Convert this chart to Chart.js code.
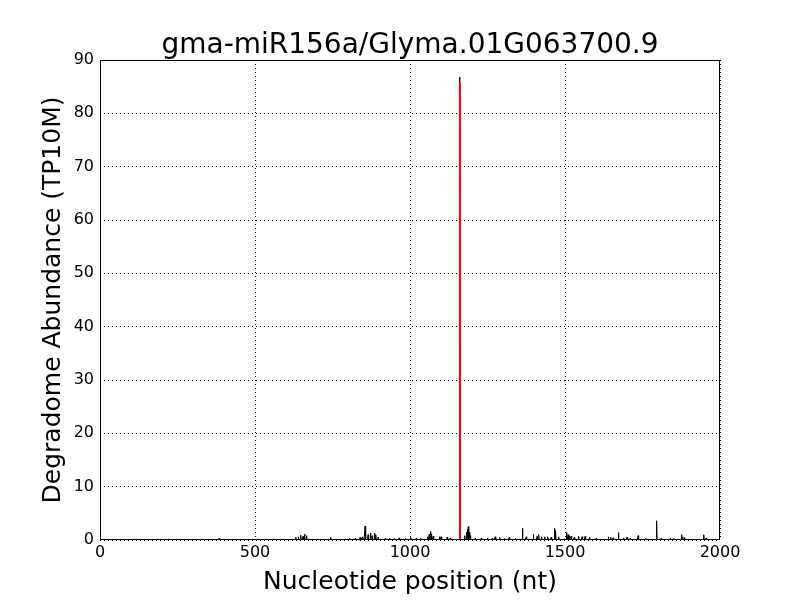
<!DOCTYPE html>
<html>
<head>
<meta charset="utf-8">
<script src="https://cdn.jsdelivr.net/npm/chart.js@4"></script>
<style>
  body { margin: 0; background: #fff; }
  #wrap { width: 800px; height: 600px; }
</style>
</head>
<body>
<div id="wrap"><canvas id="plot" width="800" height="600"></canvas></div>
<script>
// degradome peaks (position in nt, abundance in TP10M)
const peakPos = [115,186,220,245,335,384,516,538,559,591,632,640,648,655,660,667,699,745,806,823,839,845,848,855,865,872,878,885,890,897,920,935,950,965,985,1003,1020,1035,1058,1062,1066,1070,1075,1095,1100,1120,1130,1161,1177,1182,1186,1188,1191,1194,1210,1230,1250,1265,1275,1290,1305,1320,1340,1363,1375,1398,1410,1416,1425,1435,1445,1455,1466,1470,1480,1505,1510,1515,1520,1530,1545,1555,1565,1580,1600,1640,1648,1655,1672,1690,1700,1710,1736,1760,1796,1810,1840,1850,1876,1880,1885,1948,1955];
const peakVal = [0.2,0.2,0.2,0.2,0.2,0.3,0.2,0.2,0.2,0.2,0.5,0.6,0.9,0.7,1.1,0.8,0.2,0.5,0.3,0.3,0.5,0.4,0.6,2.6,1.0,1.3,0.8,1.3,1.0,0.5,0.3,0.3,0.3,0.4,0.3,0.5,0.3,0.3,0.6,1.1,1.6,1.2,0.7,0.6,0.6,0.5,0.4,86.8,0.8,1.5,2.0,2.5,1.5,0.8,0.3,0.3,0.4,0.3,0.6,0.5,0.3,0.5,0.3,2.2,0.6,1.1,0.7,1.0,0.6,0.6,0.6,0.5,2.2,1.8,0.6,1.4,1.0,0.8,0.7,0.5,0.7,0.6,0.7,0.5,0.3,0.6,0.5,0.4,1.4,0.4,0.5,0.3,0.8,0.3,3.6,0.3,0.3,0.3,1.0,0.6,0.5,1.0,0.4];
const transcriptLength = 1980;
const cleavageSite = 1161;
const cleavageTop = 85.7;
const xTicks = [0, 500, 1000, 1500, 2000];
const yTicks = [0, 10, 20, 30, 40, 50, 60, 70, 80, 90];
const titleText = "gma-miR156a/Glyma.01G063700.9";

// full profile: zero everywhere except the read peaks
const lookup = {};
peakPos.forEach((p, i) => { lookup[p] = peakVal[i]; });
const profile = [];
for (let p = 1; p <= transcriptLength; p++) {
  profile.push({ x: p, y: lookup[p] || 0 });
}

const font = "'DejaVu Sans', sans-serif";

// box round the plot and the title centred over it
const frame = {
  id: "frame",
  afterDraw(chart) {
    const a = chart.chartArea, c = chart.ctx;
    c.save();
    c.strokeStyle = "#000";
    c.lineWidth = 1;
    c.strokeRect(a.left + 0.5, a.top + 0.5, a.right - a.left - 1, a.bottom - a.top - 1);
    c.fillStyle = "#000";
    c.font = "28px " + font;
    c.textAlign = "center";
    c.textBaseline = "alphabetic";
    c.fillText(titleText, (a.left + a.right) / 2, 53);
    c.restore();
  }
};

new Chart(document.getElementById("plot"), {
  type: "line",
  data: {
    datasets: [
      {
        data: [{ x: cleavageSite, y: 0 }, { x: cleavageSite, y: cleavageTop }],
        borderColor: "#ff0000",
        borderWidth: 2,
        pointRadius: 0
      },
      {
        data: profile,
        borderColor: "#000",
        borderWidth: 1,
        pointRadius: 0,
        tension: 0
      }
    ]
  },
  options: {
    responsive: false,
    animation: false,
    layout: { padding: { left: 38, right: 80, top: 60, bottom: 3 } },
    plugins: {
      legend: { display: false },
      tooltip: { enabled: false },
      title: { display: false }
    },
    scales: {
      x: {
        type: "linear",
        min: 0,
        max: 2000,
        afterBuildTicks: (s) => { s.ticks = xTicks.map(v => ({ value: v })); },
        afterFit: (s) => { s.height = 57; },
        ticks: { color: "#000", font: { family: font, size: 16 }, padding: 3, maxRotation: 0, callback: (v) => String(v) },
        grid: { color: "#000", lineWidth: 1, drawTicks: false },
        border: { display: false, dash: [1, 3] },
        title: {
          display: true,
          text: "Nucleotide position (nt)",
          color: "#000",
          font: { family: font, size: 25 },
          padding: { top: 2, bottom: 0 }
        }
      },
      y: {
        min: 0,
        max: 90,
        afterBuildTicks: (s) => { s.ticks = yTicks.map(v => ({ value: v })); },
        afterFit: (s) => { s.width = 62; },
        ticks: { color: "#000", font: { family: font, size: 16 }, padding: 6, callback: (v) => String(v) },
        grid: { color: "#000", lineWidth: 1, drawTicks: false },
        border: { display: false, dash: [1, 3] },
        title: {
          display: true,
          text: "Degradome Abundance (TP10M)",
          color: "#000",
          font: { family: font, size: 25 },
          padding: { top: 0, bottom: 0 }
        }
      }
    }
  },
  plugins: [frame]
});
</script>
</body>
</html>
